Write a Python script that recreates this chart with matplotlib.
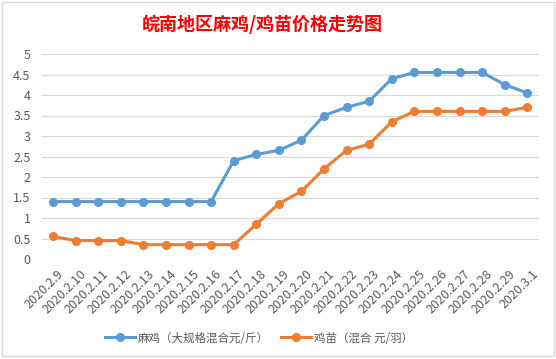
import matplotlib
matplotlib.use("Agg")
import matplotlib.pyplot as plt
from matplotlib.patches import Rectangle
import matplotlib.transforms as mtransforms

plt.rcParams['font.family'] = ['Noto Sans CJK SC', 'DejaVu Sans']

dates = ["2020.2.9", "2020.2.10", "2020.2.11", "2020.2.12", "2020.2.13", "2020.2.14",
         "2020.2.15", "2020.2.16", "2020.2.17", "2020.2.18", "2020.2.19", "2020.2.20",
         "2020.2.21", "2020.2.22", "2020.2.23", "2020.2.24", "2020.2.25", "2020.2.26",
         "2020.2.27", "2020.2.28", "2020.2.29", "2020.3.1"]
maji = [1.4, 1.4, 1.4, 1.4, 1.4, 1.4, 1.4, 1.4, 2.4, 2.55, 2.65, 2.9, 3.5, 3.7, 3.85,
        4.4, 4.55, 4.55, 4.55, 4.55, 4.25, 4.05]
jimiao = [0.55, 0.45, 0.45, 0.45, 0.35, 0.35, 0.35, 0.35, 0.35, 0.85, 1.35, 1.65, 2.2,
          2.65, 2.8, 3.35, 3.6, 3.6, 3.6, 3.6, 3.6, 3.7]
series_names = ["麻鸡（大规格混合元/斤）", "鸡苗（混合 元/羽）"]
yticks = [0, 0.5, 1, 1.5, 2, 2.5, 3, 3.5, 4, 4.5, 5]
title = "皖南地区麻鸡/鸡苗价格走势图"

W, H = 556, 359
fig = plt.figure(figsize=(W / 100, H / 100), dpi=100)
fig.patch.set_facecolor("white")

# chart border
fig.add_artist(Rectangle((2 / W, 1 - 356 / H), (553.5 - 2) / W, (356 - 2) / H,
                         transform=fig.transFigure, fill=False, edgecolor="#D9D9D9", lw=1))

left, right, top, bottom = 41.7, 538.7, 54, 259
ax = fig.add_axes([left / W, 1 - bottom / H, (right - left) / W, (bottom - top) / H])
x = list(range(len(dates)))
blue = "#5B9BD5"
orange = "#ED7D31"
ax.plot(x, maji, color=blue, lw=2.2, marker="o", ms=5.5, label=series_names[0], zorder=3)
ax.plot(x, jimiao, color=orange, lw=2.2, marker="o", ms=5.5, label=series_names[1], zorder=3)

ax.set_xlim(-0.5, len(dates) - 0.5)
ax.set_ylim(0, 5)
ax.set_yticks(yticks)
ax.set_yticklabels([f"{v:g}" for v in yticks])
ax.grid(axis="y", color="#D9D9D9", lw=0.9)
ax.set_axisbelow(True)
for s in ax.spines.values():
    s.set_visible(False)
ax.tick_params(axis="y", length=0, pad=8, labelsize=9, labelcolor="#595959")
ax.tick_params(axis="x", length=0, pad=6, labelsize=9, labelcolor="#595959")
ax.set_xticks(x)
ax.set_xticklabels(dates, rotation=45, ha="right", va="top", rotation_mode="anchor")
offset = mtransforms.ScaledTranslation(4 / 100, 0, fig.dpi_scale_trans)
for lbl in ax.get_xticklabels():
    lbl.set_transform(lbl.get_transform() + offset)

fig.text(262 / W, 1 - 24 / H, title, color="#FF0000", fontsize=13, fontweight="bold",
         ha="center", va="center")

leg = fig.legend(loc="center", bbox_to_anchor=(259 / W, 1 - 338 / H), ncol=2, frameon=False,
                 fontsize=8.3, handlelength=2.6, columnspacing=1.0, handletextpad=0.3,
                 labelcolor="#595959")

fig.savefig("out.png", dpi=100)
